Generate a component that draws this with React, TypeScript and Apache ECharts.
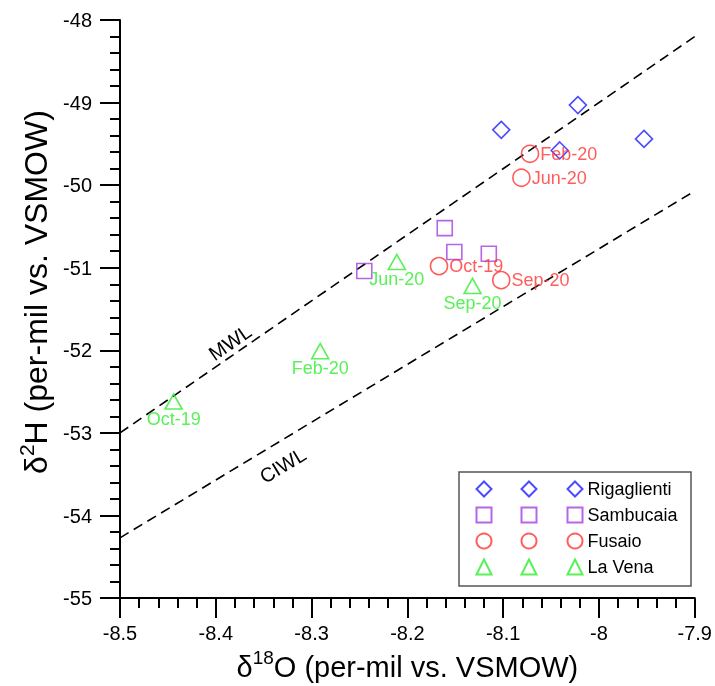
import React, { useEffect, useRef } from 'react';
import * as echarts from 'echarts';

// Rigaglienti (blue diamonds)
const rigaX = [-8.102, -8.022, -7.953, -8.041];
const rigaY = [-49.33, -49.03, -49.44, -49.58];
// Sambucaia (purple squares)
const sambX = [-8.161, -8.151, -8.115, -8.245];
const sambY = [-50.52, -50.81, -50.83, -51.04];
// Fusaio (red circles)
const fusX = [-8.072, -8.081, -8.167, -8.102];
const fusY = [-49.62, -49.91, -50.98, -51.15];
const fusLabels = ['Feb-20', 'Jun-20', 'Oct-19', 'Sep-20'];
// La Vena (green triangles)
const venaX = [-8.444, -8.291, -8.211, -8.132];
const venaY = [-52.62, -52.01, -50.93, -51.22];
const venaLabels = ['Oct-19', 'Feb-20', 'Jun-20', 'Sep-20'];
// Water lines
const mwlX = [-8.5, -7.9];
const mwlY = [-53.0, -48.2];
const ciwlX = [-8.5, -7.9];
const ciwlY = [-54.27, -50.07];

const seriesNames = ['Rigaglienti', 'Sambucaia', 'Fusaio', 'La Vena'];

const FONT = '"Liberation Sans", Arial, sans-serif';
const BLUE = '#1e1eff';
const PURPLE = '#a43fe0';
const RED = '#ff3333';
const GREEN = '#2eee2e';

function pts(xs: number[], ys: number[], labels?: string[]) {
  return xs.map((x, i) => (labels ? { value: [x, ys[i]], name: labels[i] } : [x, ys[i]]));
}

export default function App() {
  const ref = useRef<HTMLDivElement>(null);
  useEffect(() => {
    if (!ref.current) return;
    const chart = echarts.init(ref.current, undefined, { renderer: 'svg' });
    const hollow = (c: string) => ({ color: 'rgba(0,0,0,0)', borderColor: c, borderWidth: 1.6 });
    const legendBase = {
      orient: 'vertical' as const,
      top: 475,
      itemWidth: 15,
      itemHeight: 15,
      itemGap: 8,
      selectedMode: false,
      data: seriesNames,
    };
    const legendText = { fontSize: 18, lineHeight: 18, color: '#000', fontFamily: FONT };
    const titleRich = (size: number) => ({
      a: { fontSize: size, fontFamily: FONT, color: '#000', lineHeight: size + 4, verticalAlign: 'bottom' },
      s: { fontSize: Math.round(size * 0.65), fontFamily: FONT, color: '#000', lineHeight: size + 4, verticalAlign: 'top' },
    });
    const option: any = {
      animation: false,
      textStyle: { fontFamily: FONT },
      grid: { left: 120, right: 18, top: 20, bottom: 84 },
      xAxis: {
        type: 'value',
        min: -8.5,
        max: -7.9,
        interval: 0.1,
        name: '{a|δ}{s|18}{a|O (per-mil vs. VSMOW)}',
        nameLocation: 'middle',
        nameGap: 47,
        nameTextStyle: { rich: titleRich(29) },
        axisLine: { onZero: false, lineStyle: { color: '#000', width: 2 } },
        axisTick: { show: true, inside: false, length: 20, lineStyle: { color: '#000', width: 2 } },
        minorTick: { show: true, splitNumber: 5, length: 10, lineStyle: { color: '#000', width: 2 } },
        splitLine: { show: false },
        axisLabel: {
          margin: 25,
          fontSize: 20,
          color: '#000',
          fontFamily: FONT,
          formatter: (v: number) => String(+v.toFixed(1)),
        },
      },
      yAxis: {
        type: 'value',
        min: -55,
        max: -48,
        interval: 1,
        name: '{a|δ}{s|2}{a|H (per-mil vs. VSMOW)}',
        nameLocation: 'middle',
        nameGap: 64,
        nameTextStyle: { rich: titleRich(32), padding: [0, 0, 0, 34] },
        axisLine: { onZero: false, lineStyle: { color: '#000', width: 2 } },
        axisTick: { show: true, inside: false, length: 20, lineStyle: { color: '#000', width: 2 } },
        minorTick: { show: true, splitNumber: 5, length: 10, lineStyle: { color: '#000', width: 2 } },
        splitLine: { show: false },
        axisLabel: { margin: 28, fontSize: 20, color: '#000', fontFamily: FONT },
      },
      legend: [
        { ...legendBase, left: 470.5, formatter: () => ' ', textStyle: legendText },
        { ...legendBase, left: 515.5, formatter: () => ' ', textStyle: legendText },
        { ...legendBase, left: 561.5, textStyle: legendText },
      ],
      series: [
        {
          name: 'MWL',
          type: 'line',
          data: pts(mwlX, mwlY),
          symbol: 'none',
          lineStyle: { color: '#000', width: 1.6, type: [10, 6] },
          z: 1,
        },
        {
          name: 'CIWL',
          type: 'line',
          data: pts(ciwlX, ciwlY),
          symbol: 'none',
          lineStyle: { color: '#000', width: 1.6, type: [10, 6] },
          z: 1,
        },
        {
          name: 'Rigaglienti',
          type: 'scatter',
          symbol: 'diamond',
          symbolSize: 17,
          itemStyle: hollow(BLUE),
          data: pts(rigaX, rigaY),
        },
        {
          name: 'Sambucaia',
          type: 'scatter',
          symbol: 'rect',
          symbolSize: 15,
          itemStyle: hollow(PURPLE),
          data: pts(sambX, sambY),
        },
        {
          name: 'Fusaio',
          type: 'scatter',
          symbol: 'circle',
          symbolSize: 17,
          itemStyle: hollow(RED),
          data: pts(fusX, fusY, fusLabels),
          label: {
            show: true,
            position: 'right',
            distance: 1,
            formatter: '{b}',
            color: RED,
            fontSize: 18,
            fontFamily: FONT,
          },
        },
        {
          name: 'La Vena',
          type: 'scatter',
          symbol: 'triangle',
          symbolSize: [17, 15],
          itemStyle: hollow(GREEN),
          data: pts(venaX, venaY, venaLabels),
          label: {
            show: true,
            position: 'bottom',
            distance: 0,
            formatter: '{b}',
            color: GREEN,
            fontSize: 18,
            fontFamily: FONT,
          },
        },
      ],
    };
    chart.setOption(option);

    const lineLabel = (xs: number[], ys: number[], atX: number, text: string, d: number, above: boolean) => {
      const p0 = chart.convertToPixel({ xAxisIndex: 0, yAxisIndex: 0 }, [xs[0], ys[0]]) as number[];
      const p1 = chart.convertToPixel({ xAxisIndex: 0, yAxisIndex: 0 }, [xs[1], ys[1]]) as number[];
      const t = (atX - xs[0]) / (xs[1] - xs[0]);
      const cx = p0[0] + t * (p1[0] - p0[0]);
      const cy = p0[1] + t * (p1[1] - p0[1]);
      const theta = Math.atan2(p0[1] - p1[1], p1[0] - p0[0]);
      const s = above ? -1 : 1;
      return {
        type: 'text',
        x: cx + s * Math.sin(theta) * d,
        y: cy + s * Math.cos(theta) * d,
        rotation: theta,
        style: {
          text,
          fontSize: 20,
          fontFamily: FONT,
          fill: '#000',
          align: 'center',
          verticalAlign: 'middle',
        },
      };
    };

    chart.setOption({
      graphic: [
        {
          type: 'rect',
          shape: { x: 459, y: 472, width: 232, height: 114 },
          style: { fill: 'none', stroke: '#555', lineWidth: 1.5 },
          silent: true,
        },
        lineLabel(mwlX, mwlY, -8.378, 'MWL', 12, true),
        lineLabel(ciwlX, ciwlY, -8.342, 'CIWL', 22, false),
      ],
    });

    return () => chart.dispose();
  }, []);
  return <div ref={ref} style={{ position: 'fixed', left: 0, top: 0, width: 715, height: 686 }} />;
}
